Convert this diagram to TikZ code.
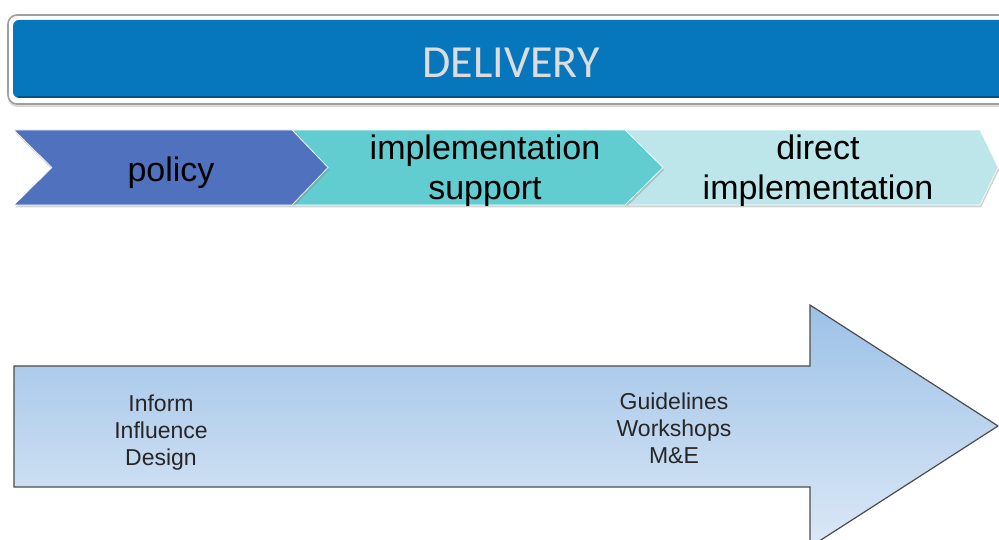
\documentclass[tikz,border=0pt]{standalone}
\usepackage{fontspec}
\setmainfont{Liberation Sans}
\newfontfamily\calibrifont{Carlito}
\usetikzlibrary{shadows}
\definecolor{bannerblue}{HTML}{0677BD}
\definecolor{policyblue}{HTML}{4F71BE}
\definecolor{supportteal}{HTML}{62CDD0}
\definecolor{directteal}{HTML}{BCE6EA}
\definecolor{arrowtop}{HTML}{9CC1E7}
\definecolor{arrowbot}{HTML}{DCE8F6}
\definecolor{titlegray}{HTML}{DCDCDC}
\tikzset{
  chev/.style={draw=white, line width=0.6pt, drop shadow={shadow xshift=1pt, shadow yshift=-2.5pt, opacity=0.35}},
  chevtext/.style={font=\fontsize{34}{40}\selectfont, align=center, text=black},
  arrowtext/.style={font=\fontsize{23}{27}\selectfont, align=center, text=black!85},
}
\begin{document}
\begin{tikzpicture}[x=1pt,y=-1pt]
\useasboundingbox (0,0) rectangle (999,540);
\clip (0,0) rectangle (999,540);
% banner
\draw[gray!75, line width=1.6pt, fill=white, rounded corners=9pt,
      drop shadow={shadow xshift=0pt, shadow yshift=-3pt, opacity=0.3}] (8,15) rectangle (1030,104);
\fill[bannerblue, rounded corners=6pt] (13,20) rectangle (1025,98);
\draw[bannerblue!70!black, line width=1.2pt] (18,97) -- (1000,97);
\node[font=\calibrifont\fontsize{46}{50}\selectfont, text=titlegray] (title) at (511,63) {DELIVERY};
% chevrons
\fill[chev, fill=directteal] (625,130) -- (980,130) -- (998,167.5) -- (980,205) -- (625,205) -- (663,167.5) -- cycle;
\fill[chev, fill=supportteal] (292,130) -- (625,130) -- (663,167.5) -- (625,205) -- (292,205) -- (328,167.5) -- cycle;
\fill[chev, fill=policyblue] (14,130) -- (292,130) -- (328,167.5) -- (292,205) -- (14,205) -- (52,167.5) -- cycle;
\node[chevtext] (policy) at (171,173) {policy};
\node[chevtext] (support) at (485,171) {implementation\\support};
\node[chevtext] (direct) at (818,171) {direct\\implementation};
% big arrow
\shade[top color=arrowtop, bottom color=arrowbot]
  (14,366) -- (810,366) -- (810,305) -- (998,426) -- (810,547) -- (810,487) -- (14,487) -- cycle;
\draw[black!70, line width=1.2pt, line join=miter]
  (14,366) -- (810,366) -- (810,305) -- (998,426) -- (810,547) -- (810,487) -- (14,487) -- cycle;
\node[arrowtext] (left) at (161,433) {Inform\\Influence\\Design};
\node[arrowtext] (right) at (674,428) {Guidelines\\Workshops\\M\&E};
\end{tikzpicture}
\end{document}
